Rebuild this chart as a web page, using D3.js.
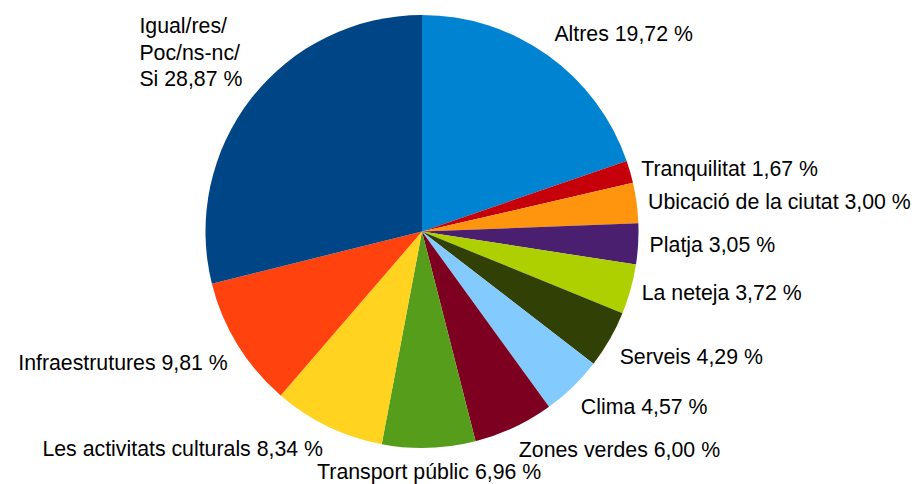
<!DOCTYPE html>
<html>
<head>
<meta charset="utf-8">
<script src="https://cdn.jsdelivr.net/npm/d3@7"></script>
<style>
  body { margin: 0; background: #fff; }
  svg text { font-family: "Liberation Sans", Arial, sans-serif; font-size: 21.3px; fill: #000; }
</style>
</head>
<body>
<div id="chart"></div>
<script>
// data, clockwise from 12 o'clock
var categories = ["Altres", "Tranquilitat", "Ubicació de la ciutat", "Platja", "La neteja",
  "Serveis", "Clima", "Zones verdes", "Transport públic", "Les activitats culturals",
  "Infraestrutures", "Igual/res/Poc/ns-nc/Si"];
var values = [19.72, 1.67, 3.00, 3.05, 3.72, 4.29, 4.57, 6.00, 6.96, 8.34, 9.81, 28.87];
var labelLines = [
  ["Altres 19,72 %"], ["Tranquilitat 1,67 %"], ["Ubicació de la ciutat 3,00 %"],
  ["Platja 3,05 %"], ["La neteja 3,72 %"], ["Serveis 4,29 %"], ["Clima 4,57 %"],
  ["Zones verdes 6,00 %"], ["Transport públic 6,96 %"], ["Les activitats culturals 8,34 %"],
  ["Infraestrutures 9,81 %"], ["Igual/res/", "Poc/ns-nc/", "Si 28,87 %"]
];
var colors = ["#0084d1", "#c5000b", "#ff950e", "#4b1f6f", "#aecf00", "#314004",
  "#83caff", "#7e0021", "#579d1c", "#ffd320", "#ff420e", "#004586"];

var svgWidth = 912;
var svgHeight = 484;
var cx = 422, cy = 231.5;
var radius = 216.5;
var labelRadius = 228;
var fontSize = 21.3, lineHeight = 26.7;

var svg = d3.select("#chart")
  .append("svg")
  .attr("width", svgWidth)
  .attr("height", svgHeight);

var chartGroup = svg.append("g")
  .attr("transform", `translate(${cx}, ${cy})`);

var pie = d3.pie().sort(null).value(d => d);
var arcs = pie(values);

var arc = d3.arc().innerRadius(0).outerRadius(radius);

chartGroup.selectAll("path")
  .data(arcs)
  .enter()
  .append("path")
  .attr("d", arc)
  .attr("fill", (d, i) => colors[i]);

// labels: anchor corner chosen from 8 sectors around the pie
arcs.forEach(function(d, i) {
  var mid = (d.startAngle + d.endAngle) / 2;
  var deg = mid * 180 / Math.PI;
  var ax = labelRadius * Math.sin(mid);
  var ay = -labelRadius * Math.cos(mid);

  var lines = labelLines[i];
  var g = chartGroup.append("g");
  var txt = g.append("text");
  lines.forEach(function(line, j) {
    txt.append("tspan").attr("x", 0).attr("y", j * lineHeight).text(line);
  });
  var w = d3.max(txt.selectAll("tspan").nodes(), n => n.getComputedTextLength());
  var h = (lines.length - 1) * lineHeight + fontSize * 1.117;
  var ascent = fontSize * 0.905;

  // horizontal alignment
  var hx, vy;
  var a = ((deg % 360) + 360) % 360;
  if (a < 22.5 || a > 337.5 || (a > 157.5 && a < 202.5)) hx = -w / 2;
  else if (a < 180) hx = 0;
  else hx = -w;
  // vertical alignment
  if ((a > 67.5 && a < 112.5) || (a > 247.5 && a < 292.5)) vy = -h / 2;
  else if (a > 90 && a < 270) vy = 0;
  else vy = -h;

  g.attr("transform", `translate(${ax + hx}, ${ay + vy + ascent})`);
});
</script>
</body>
</html>
